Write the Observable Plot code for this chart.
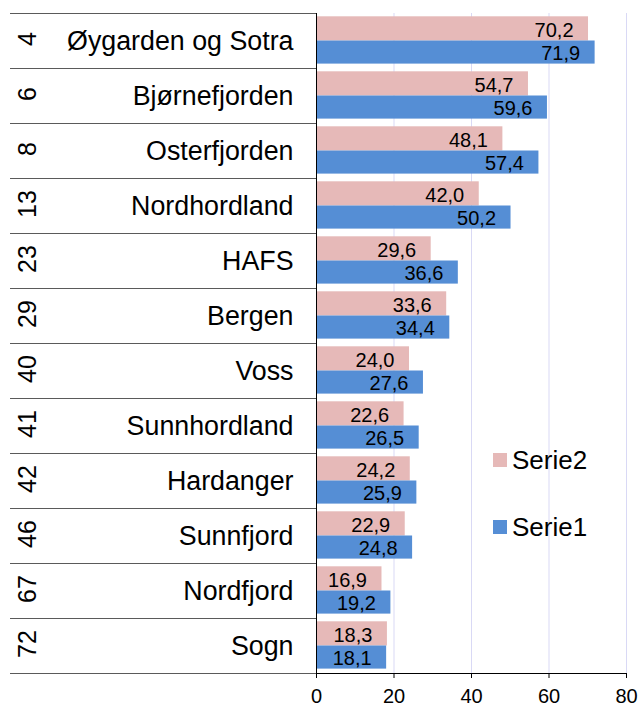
<!DOCTYPE html>
<html>
<head>
<meta charset="utf-8">
<script src="https://cdn.jsdelivr.net/npm/d3@7"></script>
<script src="https://cdn.jsdelivr.net/npm/@observablehq/plot@0.6"></script>
<style>
  html, body { margin: 0; padding: 0; background: #fff; }
  #wrap { position: relative; width: 639px; height: 706px; font-family: "Liberation Sans", Arial, sans-serif; }
  .leg { position: absolute; display: flex; align-items: center; font-size: 26px; color: #000; }
  .sw { width: 14px; height: 14px; margin-right: 5px; }
</style>
</head>
<body>
<div id="wrap"></div>
<script>
const names = ["Øygarden og Sotra", "Bjørnefjorden", "Osterfjorden", "Nordhordland", "HAFS", "Bergen", "Voss", "Sunnhordland", "Hardanger", "Sunnfjord", "Nordfjord", "Sogn"];
const codes = ["4", "6", "8", "13", "23", "29", "40", "41", "42", "46", "67", "72"];
const serie1 = [71.9, 59.6, 57.4, 50.2, 36.6, 34.4, 27.6, 26.5, 25.9, 24.8, 19.2, 18.1];
const serie2 = [70.2, 54.7, 48.1, 42.0, 29.6, 33.6, 24.0, 22.6, 24.2, 22.9, 16.9, 18.3];
const xTicks = [0, 20, 40, 60, 80];
const seriesNames = ["Serie2", "Serie1"];

const pink = "#e6b9b8";
const blue = "#558ed5";
const fmt = v => d3.format(".1f")(v).replace(".", ",");

const rows = names.map((n, i) => ({name: n, code: codes[i], s1: serie1[i], s2: serie2[i]}));

const W = 639, H = 706, mt = 13, mb = 33, ml = 316, mr = 13;
const bw = (H - mt - mb) / names.length;
const frameW = W - ml - mr;

const chart = Plot.plot({
  width: W,
  height: H,
  marginTop: mt,
  marginBottom: mb,
  marginLeft: ml,
  marginRight: mr,
  style: {fontFamily: "'Liberation Sans', Arial, sans-serif", fontSize: "20px", background: "#fff", color: "#000", overflow: "visible"},
  x: {domain: [0, 80], axis: null},
  y: {type: "band", domain: names, padding: 0, axis: null},
  marks: [
    Plot.ruleX(xTicks.slice(1), {stroke: "#d9d9f5", strokeWidth: 1}),
    Plot.barX(rows, {x: "s2", y: "name", fill: pink, insetTop: 3.3, insetBottom: bw / 2}),
    Plot.barX(rows, {x: "s1", y: "name", fill: blue, insetTop: bw / 2, insetBottom: 4.4}),
    Plot.text(rows, {x: "s2", y: "name", text: d => fmt(d.s2), textAnchor: "end", dx: -15, dy: -10.5, fontSize: 20, fill: "#000"}),
    Plot.text(rows, {x: "s1", y: "name", text: d => fmt(d.s1), textAnchor: "end", dx: -15, dy: 12.5, fontSize: 20, fill: "#000"}),
    // category separators on the left
    Plot.ruleY(rows, {y: "name", dy: -bw / 2, stroke: "#5a5a5a", insetLeft: -(ml - 10), insetRight: frameW}),
    Plot.ruleY(rows.slice(-1), {y: "name", dy: bw / 2, stroke: "#5a5a5a", insetLeft: -(ml - 10), insetRight: frameW}),
    // bottom axis line
    Plot.ruleY(rows.slice(-1), {y: "name", dy: bw / 2, stroke: "#000"}),
    // vertical axis line
    Plot.ruleX([0], {stroke: "#000", insetBottom: -5}),
    // category labels
    Plot.text(rows, {y: "name", text: "name", frameAnchor: "left", textAnchor: "end", dx: -23, fontSize: 26.8, fill: "#000"}),
    Plot.text(rows, {y: "name", text: "code", frameAnchor: "left", textAnchor: "middle", rotate: -90, dx: -289, dy: -2, fontSize: 25, fill: "#000"}),
    Plot.axisX({ticks: xTicks, tickSize: 5, tickPadding: 10, fontSize: 20, label: null, stroke: "#000", tickFormat: d => String(d)})
  ]
});

const wrap = document.getElementById("wrap");
wrap.appendChild(chart);

const legendItems = [
  {name: seriesNames[0], color: pink, top: 445},
  {name: seriesNames[1], color: blue, top: 512}
];
for (const it of legendItems) {
  const d = document.createElement("div");
  d.className = "leg";
  d.style.left = "493px";
  d.style.top = it.top + "px";
  d.style.height = "30px";
  const sw = document.createElement("span");
  sw.className = "sw";
  sw.style.background = it.color;
  const t = document.createElement("span");
  t.textContent = it.name;
  d.appendChild(sw);
  d.appendChild(t);
  wrap.appendChild(d);
}
</script>
</body>
</html>
